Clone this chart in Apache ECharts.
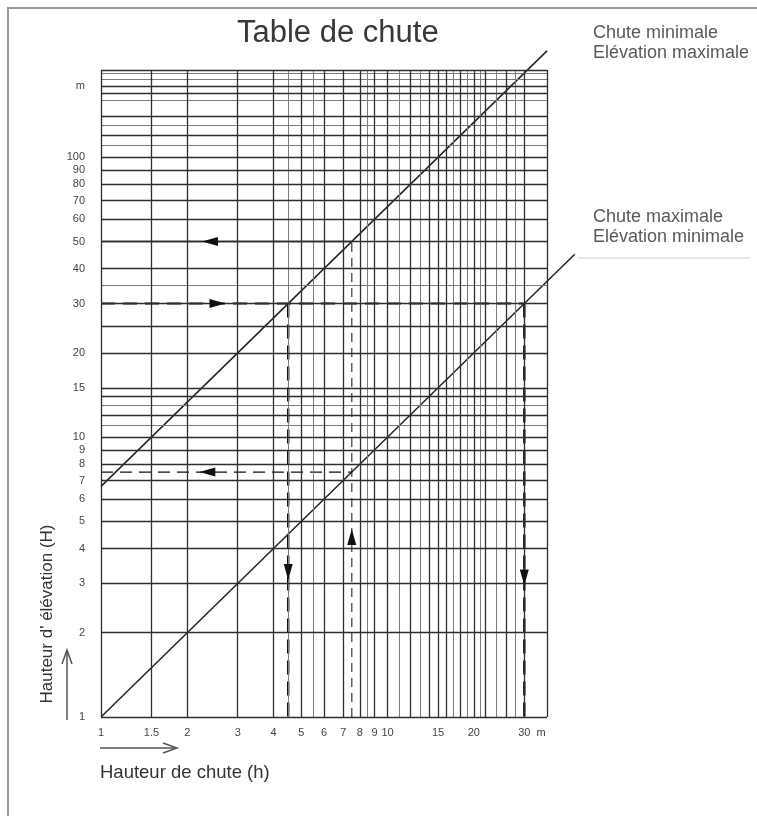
<!DOCTYPE html>
<html><head><meta charset="utf-8">
<script src="https://cdn.jsdelivr.net/npm/echarts@6/dist/echarts.min.js"></script>
<style>html,body{margin:0;padding:0;background:#fff}#c{width:757px;height:816px}</style>
</head><body><div id="c"></div>
<script>
// ---- tick labels ----
const xTickValues = [1, 1.5, 2, 3, 4, 5, 6, 7, 8, 9, 10, 15, 20, 30, 34.3];
const xTickLabels = ['1', '1.5', '2', '3', '4', '5', '6', '7', '8', '9', '10', '15', '20', '30', 'm'];
const yTickValues = [1, 2, 3, 4, 5, 6, 7, 8, 9, 10, 15, 20, 30, 40, 50, 60, 70, 80, 90, 100, 180];
const yTickLabels = ['1', '2', '3', '4', '5', '6', '7', '8', '9', '10', '15', '20', '30', '40', '50', '60', '70', '80', '90', '100', 'm'];

// ---- grid lines (values) ----
const xGridDark = [1, 1.5, 2, 3, 4, 5, 6, 7, 8, 9, 10, 12, 14, 15, 16, 18, 20, 22, 26, 30, 36];
const xGridLight = [4.5, 5.5, 8.5, 11, 13, 17, 19, 21, 24, 28];
const yGridDark = [1, 2, 3, 4, 5, 6, 7, 8, 9, 10, 12, 14, 15, 20, 25, 30, 40, 50, 60, 70, 80, 90, 100, 120, 140, 170, 180, 205];
const yGridLight = [11, 13, 35, 110, 130, 160, 190, 200];

// ---- abacus lines (h, H) ----
const lineChuteMin = [[1, 6.67], [36, 240]];   // Chute minimale / Elévation maximale
const lineChuteMax = [[1, 1], [45, 45]];       // Chute maximale / Elévation minimale

// ---- worked examples ----
const ex1Horiz = [[1, 30], [30, 30]];
const ex1VertA = [[4.5, 30], [4.5, 1]];
const ex1VertB = [[30, 30], [30, 1]];
const ex2Vert = [[7.5, 1], [7.5, 50]];
const ex2Horiz50 = [[1, 50], [7.5, 50]];
const ex2Horiz75 = [[1, 7.5], [7.5, 7.5]];
const arrowsRight = [[2.55, 30]];
const arrowsLeft = [[2.4, 50], [2.35, 7.5]];
const arrowsDown = [[4.5, 3.3], [30, 3.15]];
const arrowsUp = [[7.5, 4.4]];

const FONT = 'Liberation Sans, Arial, Helvetica, sans-serif';
function fmt(values, labels) {
  return function (v) {
    let best = 0, bd = Infinity;
    values.forEach((t, i) => { const d = Math.abs(Math.log(t) - Math.log(v)); if (d < bd) { bd = d; best = i; } });
    return labels[best];
  };
}
function gridSeries(name, xs, ys, color, width) {
  const data = xs.map(v => ({ xAxis: v })).concat(ys.map(v => ({ yAxis: v })));
  return {
    name, type: 'line', data: [[1, 1]], showSymbol: false, silent: true, z: 1,
    lineStyle: { width: 0 },
    markLine: { silent: true, symbol: 'none', label: { show: false }, animation: false,
      lineStyle: { type: 'solid', color, width }, emphasis: { disabled: true }, data }
  };
}
function lineSeries(data, color, width, type, z) {
  return { type: 'lines', coordinateSystem: 'cartesian2d', polyline: true, clip: false, silent: true, z: z || 3,
    data: [{ coords: data }], lineStyle: { color, width, type, opacity: 1 } };
}
function arrowSeries(data, rot) {
  return { type: 'scatter', data, symbol: 'triangle', symbolSize: [9, 16], symbolRotate: rot,
    itemStyle: { color: '#111', opacity: 1 }, silent: true, z: 6 };
}

const chart = echarts.init(document.getElementById('c'), null, { renderer: 'canvas' });
chart.setOption({
  animation: false,
  backgroundColor: '#ffffff',
  title: { text: 'Table de chute', left: 232, top: 13,
    textStyle: { fontFamily: FONT, fontSize: 31, fontWeight: 'normal', color: '#383838' } },
  grid: { left: 101, right: 210, top: 70, bottom: 99 },
  xAxis: { type: 'log', logBase: 10, min: 1, max: 36,
    axisLine: { show: false }, axisTick: { show: false }, splitLine: { show: false }, minorSplitLine: { show: false },
    axisLabel: { customValues: xTickValues, formatter: fmt(xTickValues, xTickLabels), margin: 10,
      fontFamily: FONT, fontSize: 11, color: '#444' } },
  yAxis: { type: 'log', logBase: 10, min: 1, max: 205,
    axisLine: { show: false }, axisTick: { show: false }, splitLine: { show: false },
    axisLabel: { customValues: yTickValues, formatter: fmt(yTickValues, yTickLabels), margin: 16,
      fontFamily: FONT, fontSize: 11, color: '#444' } },
  series: [
    gridSeries('gridLight', xGridLight, yGridLight, '#7c7c7c', 1),
    gridSeries('gridDark', xGridDark, yGridDark, '#2e2e2e', 1.3),
    lineSeries(lineChuteMin, '#222', 1.5, 'solid', 4),
    lineSeries(lineChuteMax, '#222', 1.5, 'solid', 4),
    lineSeries(ex1Horiz, '#111', 2, [14, 8]),
    lineSeries(ex1VertA, '#111', 2.4, [14, 7]),
    lineSeries(ex1VertB, '#111', 2.4, [14, 7]),
    lineSeries(ex2Vert, '#555', 1.4, [9, 6]),
    lineSeries(ex2Horiz50, '#111', 1.6, 'solid'),
    lineSeries(ex2Horiz75, '#111', 1.3, [12, 7]),
    arrowSeries(arrowsRight, -90),
    arrowSeries(arrowsLeft, 90),
    arrowSeries(arrowsDown, 180),
    arrowSeries(arrowsUp, 0)
  ],
  graphic: [
    { type: 'polyline', shape: { points: [[8, 816], [8, 8], [757, 8]] }, style: { stroke: '#9a9a9a', lineWidth: 2, fill: null } },
    { type: 'line', shape: { x1: 578, y1: 258, x2: 750, y2: 258 }, style: { stroke: '#d0d0d0', lineWidth: 1 } },
    { type: 'text', left: 593, top: 24, style: { text: 'Chute minimale', font: '18px ' + FONT, fill: '#5a5a5a' } },
    { type: 'text', left: 593, top: 44, style: { text: 'Elévation maximale', font: '18px ' + FONT, fill: '#5a5a5a' } },
    { type: 'text', left: 593, top: 208, style: { text: 'Chute maximale', font: '18px ' + FONT, fill: '#5a5a5a' } },
    { type: 'text', left: 593, top: 228, style: { text: 'Elévation minimale', font: '18px ' + FONT, fill: '#5a5a5a' } },
    { type: 'text', x: 47, y: 614, rotation: Math.PI / 2,
      style: { text: "Hauteur d' élévation (H)", font: '17px ' + FONT, fill: '#333', align: 'center', verticalAlign: 'middle' } },
    { type: 'text', x: 100, y: 773,
      style: { text: 'Hauteur de chute (h)', font: '18.5px ' + FONT, fill: '#333', align: 'left', verticalAlign: 'middle' } },
    { type: 'line', shape: { x1: 67, y1: 720, x2: 67, y2: 651 }, style: { stroke: '#555', lineWidth: 1.5 } },
    { type: 'polyline', shape: { points: [[62, 664], [67, 650], [72, 664]] }, style: { stroke: '#555', lineWidth: 1.5, fill: null } },
    { type: 'line', shape: { x1: 100, y1: 748, x2: 176, y2: 748 }, style: { stroke: '#555', lineWidth: 1.5 } },
    { type: 'polyline', shape: { points: [[163, 743], [177, 748], [163, 753]] }, style: { stroke: '#555', lineWidth: 1.5, fill: null } }
  ]
});
</script></body></html>
